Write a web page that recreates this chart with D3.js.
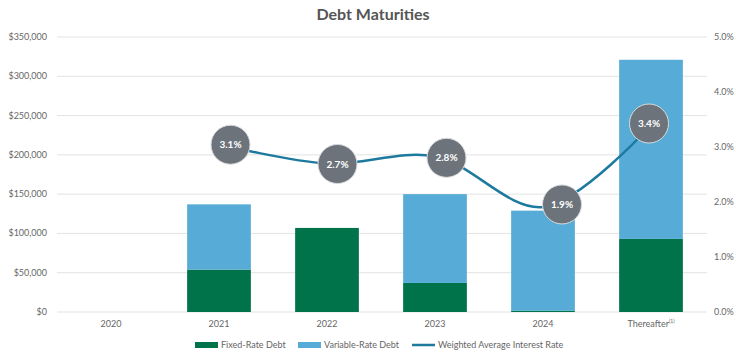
<!DOCTYPE html>
<html><head><meta charset="utf-8">
<script src="https://cdn.jsdelivr.net/npm/d3@7"></script>
<style>body{margin:0;background:#fff;} svg{display:block;font-family:Lato,"Open Sans",sans-serif;}</style>
</head><body><svg id="c" width="736" height="359"></svg>
<script>
const categories = ["2020","2021","2022","2023","2024","Thereafter"];
const fixedRate = [0, 54000, 107000, 37000, 1500, 93000];
const variableRate = [0, 83000, 0, 113000, 127500, 228000];
const interestRate = [null, 3.05, 2.7, 2.83, 1.91, 3.4];
const rateLabels = [null, "3.1%", "2.7%", "2.8%", "1.9%", "3.4%"];
const leftTicks = [0,50000,100000,150000,200000,250000,300000,350000];
const rightTicks = [0,1,2,3,4,5];

// label bubble offsets (layout only)
const labelOffsets = [null,[11.5,0.5],[10.5,0.5],[11.5,1.5],[19,-2.5],[-2,-1.5]];

const svg = d3.select("#c");
const m = {l:57, r:705, t:37, b:312};
const x = d3.scaleBand().domain(categories).range([m.l, m.r]).paddingInner(0.41).paddingOuter(0.205);
const y = d3.scaleLinear().domain([0,350000]).range([m.b, m.t]);
const y2 = d3.scaleLinear().domain([0,5]).range([m.b, m.t]);

svg.append("text").attr("x",373).attr("y",20).attr("text-anchor","middle")
  .attr("font-size",16).attr("font-weight","bold").attr("fill","#555").text("Debt Maturities");

// gridlines
svg.append("g").selectAll("line").data(leftTicks).join("line")
  .attr("x1",m.l).attr("x2",m.r+2).attr("y1",d=>y(d)).attr("y2",d=>y(d))
  .attr("stroke","#e3e3e3").attr("stroke-width",1);

// left labels
svg.append("g").selectAll("text").data(leftTicks).join("text")
  .attr("x",47).attr("y",d=>y(d)+3).attr("text-anchor","end").attr("font-size",9).attr("fill","#666")
  .text(d=>"$"+d3.format(",")(d));
svg.append("g").selectAll("text").data(rightTicks).join("text")
  .attr("x",714).attr("y",d=>y2(d)+3).attr("text-anchor","start").attr("font-size",9).attr("fill","#666")
  .text(d=>d.toFixed(1)+"%");

// bars
const bw = x.bandwidth();
svg.append("g").selectAll("rect").data(categories).join("rect")
  .attr("x",d=>x(d)).attr("width",bw)
  .attr("y",(d,i)=>y(fixedRate[i])).attr("height",(d,i)=>y(0)-y(fixedRate[i]))
  .attr("fill","#00734a");
svg.append("g").selectAll("rect").data(categories).join("rect")
  .attr("x",d=>x(d)).attr("width",bw)
  .attr("y",(d,i)=>y(fixedRate[i]+variableRate[i])).attr("height",(d,i)=>y(fixedRate[i])-y(fixedRate[i]+variableRate[i]))
  .attr("fill","#56acd6");

// x labels
const xl = svg.append("g").selectAll("text").data(categories).join("text")
  .attr("x",d=>x(d)+bw/2).attr("y",327).attr("text-anchor","middle").attr("font-size",9).attr("fill","#666")
  .text(d=>d);
xl.filter(d=>d==="Thereafter").append("tspan").attr("font-size",5).attr("dy",-4).text("(1)");

// line
const pts = categories.map((c,i)=>({c, v:interestRate[i], lab:rateLabels[i], off:labelOffsets[i]})).filter(p=>p.v!=null);
const line = d3.line().x(p=>x(p.c)+bw/2).y(p=>y2(p.v)).curve(d3.curveCatmullRom.alpha(0.5));
svg.append("path").datum(pts).attr("d",line).attr("fill","none").attr("stroke","#1d7a9e").attr("stroke-width",2.5);

const g = svg.append("g").selectAll("g").data(pts).join("g")
  .attr("transform",p=>`translate(${x(p.c)+bw/2+p.off[0]},${y2(p.v)+p.off[1]})`);
g.append("circle").attr("r",19.5).attr("fill","#6c737b").attr("stroke","#d9dbdd").attr("stroke-width",1);
g.append("text").attr("y",3.5).attr("text-anchor","middle").attr("font-size",10).attr("font-weight","bold")
  .attr("fill","#fff").text(p=>p.lab);

// legend
const leg = [
  {t:"Fixed-Rate Debt", x:195, type:"rect", c:"#00734a"},
  {t:"Variable-Rate Debt", x:298, type:"rect", c:"#56acd6"},
  {t:"Weighted Average Interest Rate", x:412, type:"line", c:"#1d7a9e"}
];
const lg = svg.append("g").selectAll("g").data(leg).join("g").attr("transform",d=>`translate(${d.x},345)`);
lg.filter(d=>d.type==="rect").append("rect").attr("x",0).attr("y",-3).attr("width",23).attr("height",6).attr("fill",d=>d.c);
lg.filter(d=>d.type==="line").append("line").attr("x1",0).attr("x2",23).attr("y1",0).attr("y2",0).attr("stroke",d=>d.c).attr("stroke-width",2.5);
lg.append("text").attr("x",26).attr("y",3).attr("font-size",9).attr("fill","#666").text(d=>d.t);
</script></body></html>
